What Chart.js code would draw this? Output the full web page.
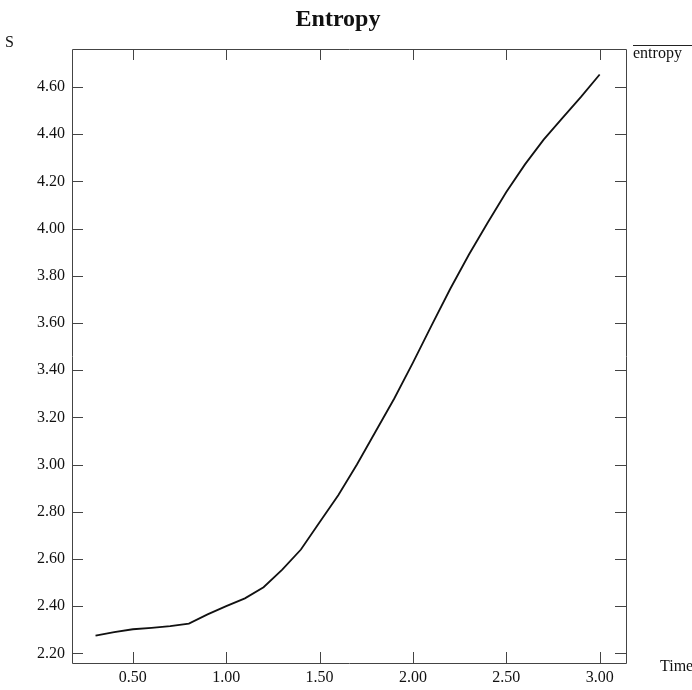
<!DOCTYPE html>
<html>
<head>
<meta charset="utf-8">
<script src="https://cdn.jsdelivr.net/npm/chart.js@4/dist/chart.umd.min.js"></script>
<style>
  html, body { margin: 0; padding: 0; background: #fff; }
  #c { display: block; }
</style>
</head>
<body>
<canvas id="c" width="692" height="690"></canvas>
<script>
const titleText = "Entropy";
const yAxisTitle = "S";
const xAxisTitle = "Time";
const seriesName = "entropy";
const times = [0.3, 0.4, 0.5, 0.6, 0.7, 0.8, 0.9, 1.0, 1.1, 1.2, 1.3, 1.4, 1.5, 1.6, 1.7, 1.8, 1.9, 2.0, 2.1, 2.2, 2.3, 2.4, 2.5, 2.6, 2.7, 2.8, 2.9, 3.0];
const entropy = [2.275, 2.29, 2.302, 2.308, 2.315, 2.326, 2.365, 2.40, 2.433, 2.48, 2.555, 2.64, 2.755, 2.87, 3.00, 3.14, 3.28, 3.432, 3.59, 3.745, 3.89, 4.025, 4.155, 4.272, 4.377, 4.468, 4.558, 4.653];
const xTickValues = [0.5, 1.0, 1.5, 2.0, 2.5, 3.0];
const yTickValues = [2.2, 2.4, 2.6, 2.8, 3.0, 3.2, 3.4, 3.6, 3.8, 4.0, 4.2, 4.4, 4.6];

const serif = "'Liberation Serif', 'DejaVu Serif', serif";

const framePlugin = {
  id: 'frame',
  afterDraw(chart) {
    const ctx = chart.ctx;
    const a = chart.chartArea;
    const xs = chart.scales.x, ys = chart.scales.y;
    ctx.save();
    ctx.strokeStyle = '#444';
    ctx.lineWidth = 1;
    ctx.beginPath();
    ctx.rect(Math.round(a.left) + 0.5, Math.round(a.top) + 0.5, Math.round(a.right - a.left), Math.round(a.bottom - a.top));
    ctx.stroke();
    ctx.beginPath();
    xs.ticks.forEach(t => {
      const px = Math.round(xs.getPixelForValue(t.value)) + 0.5;
      ctx.moveTo(px, a.bottom); ctx.lineTo(px, a.bottom - 11);
      ctx.moveTo(px, a.top); ctx.lineTo(px, a.top + 11);
    });
    ys.ticks.forEach(t => {
      const py = Math.round(ys.getPixelForValue(t.value)) + 0.5;
      ctx.moveTo(a.left, py); ctx.lineTo(a.left + 11, py);
      ctx.moveTo(a.right, py); ctx.lineTo(a.right - 11, py);
    });
    ctx.stroke();

    ctx.fillStyle = '#111';
    ctx.textBaseline = 'alphabetic';
    ctx.font = "bold 24px " + serif;
    ctx.textAlign = 'center';
    ctx.fillText(titleText, 338, 26);

    ctx.font = "16px " + serif;
    ctx.textAlign = 'left';
    ctx.fillText(yAxisTitle, 5, 47);
    ctx.fillText(xAxisTitle, 660, 671);

    ctx.fillText(seriesName, 633, 58);
    ctx.strokeStyle = '#222';
    ctx.beginPath();
    ctx.moveTo(633, 45.5); ctx.lineTo(692, 45.5);
    ctx.stroke();
    ctx.restore();
  }
};

new Chart(document.getElementById('c'), {
  type: 'line',
  data: {
    datasets: [{
      label: seriesName,
      data: times.map((t, i) => ({ x: t, y: entropy[i] })),
      borderColor: '#111',
      borderWidth: 1.8,
      pointRadius: 0,
      tension: 0,
      fill: false
    }]
  },
  options: {
    responsive: false,
    animation: false,
    devicePixelRatio: 1,
    layout: { padding: { top: 49, right: 66, bottom: 0, left: 0 } },
    plugins: { legend: { display: false }, title: { display: false }, tooltip: { enabled: false } },
    scales: {
      x: {
        type: 'linear',
        min: 0.174,
        max: 3.141,
        grid: { display: false, drawTicks: false },
        border: { display: false },
        afterBuildTicks: s => { s.ticks = xTickValues.map(v => ({ value: v })); },
        afterFit: s => { s.height = 27; },
        ticks: {
          autoSkip: false, maxRotation: 0, padding: 5, color: '#111',
          font: { family: serif, size: 16 },
          callback: v => Number(v).toFixed(2)
        }
      },
      y: {
        type: 'linear',
        min: 2.159,
        max: 4.761,
        grid: { display: false, drawTicks: false },
        border: { display: false },
        afterBuildTicks: s => { s.ticks = yTickValues.map(v => ({ value: v })); },
        afterFit: s => { s.width = 72; },
        ticks: {
          autoSkip: false, padding: 7, color: '#111',
          font: { family: serif, size: 16 },
          callback: v => Number(v).toFixed(2)
        }
      }
    }
  },
  plugins: [framePlugin]
});
</script>
</body>
</html>
